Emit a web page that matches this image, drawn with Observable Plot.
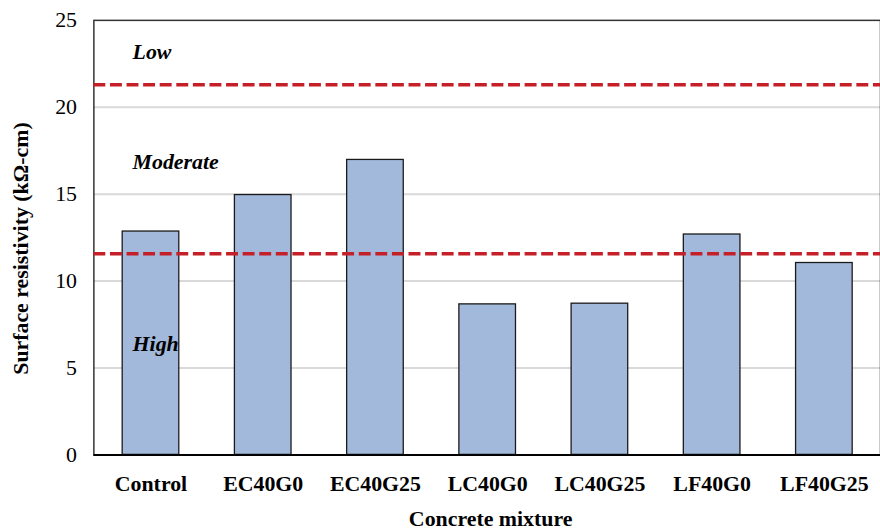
<!DOCTYPE html>
<html>
<head>
<meta charset="utf-8">
<script src="https://cdn.jsdelivr.net/npm/d3@7"></script>
<script src="https://cdn.jsdelivr.net/npm/@observablehq/plot@0.6"></script>
<style>
  html, body { margin: 0; padding: 0; background: #fff; overflow: hidden; }
  #chart svg { display: block; }
  #chart svg, #chart svg text { font-family: "Liberation Serif", "Times New Roman", Times, serif !important; }
</style>
</head>
<body>
<div id="chart"></div>
<script>
const mixtures = ["Control", "EC40G0", "EC40G25", "LC40G0", "LC40G25", "LF40G0", "LF40G25"];
const resistivity = [12.85, 14.95, 16.97, 8.66, 8.70, 12.68, 11.04];
const thresholds = [21.3, 11.57];
const zoneNames = ["Low", "Moderate", "High"];
const zoneY = [22.8, 16.43, 5.97];
const yTicks = [0, 5, 10, 15, 20, 25];
const gridValues = [5, 10, 15, 20];
const xTitle = "Concrete mixture";
const yTitle = "Surface resistivity (kΩ-cm)";

const bars = mixtures.map((m, i) => ({mixture: m, value: resistivity[i]}));
const zones = zoneNames.map((n, i) => ({name: n, y: zoneY[i]}));

const font = "Liberation Serif, Times New Roman, Times, serif";

const chart = Plot.plot({
  width: 886,
  height: 531,
  marginLeft: 94,
  marginRight: 0,
  marginTop: 20,
  marginBottom: 73.5,
  style: {fontFamily: font, fontSize: "22px", color: "#000", background: "#fff", overflow: "visible"},
  x: {
    domain: mixtures,
    paddingInner: 0.5,
    paddingOuter: 0.25,
    label: null,
    tickSize: 0,
    tickPadding: 21
  },
  y: {
    domain: [0, 25],
    ticks: yTicks,
    label: null,
    tickSize: 0,
    tickPadding: 17
  },
  marks: [
    Plot.ruleY(gridValues, {stroke: "#d9d9d9", strokeWidth: 2}),
    Plot.frame({stroke: "#333", strokeWidth: 1.5}),
    Plot.barY(bars, {x: "mixture", y: "value", fill: "#a3b9db", stroke: "#1a1a1a", strokeWidth: 1.3}),
    Plot.ruleY(thresholds, {stroke: "#c51f28", strokeWidth: 3.5, strokeDasharray: "12,4.7"}),
    Plot.ruleY([0], {stroke: "#000", strokeWidth: 2}),
    Plot.text(zones, {
      y: "y", text: "name", frameAnchor: "left", dx: 39,
      textAnchor: "start", lineAnchor: "bottom",
      fontWeight: "bold", fontStyle: "italic", fontSize: 22, fill: "#000", fontFamily: font
    }),
    Plot.text([xTitle], {
      text: d => d, frameAnchor: "bottom", dx: 3.5, dy: 72,
      textAnchor: "middle", lineAnchor: "bottom", fontWeight: "bold", fontSize: 22, fill: "#000", fontFamily: font
    }),
    Plot.text([yTitle], {
      text: d => d, frameAnchor: "left", rotate: -90, dx: -66, dy: 11,
      textAnchor: "middle", lineAnchor: "bottom", fontWeight: "bold", fontSize: 22, fill: "#000", fontFamily: font
    })
  ]
});

chart.querySelectorAll("g[aria-label='x-axis tick label'] text").forEach(t => t.setAttribute("font-weight", "bold"));
document.getElementById("chart").appendChild(chart);
</script>
</body>
</html>
